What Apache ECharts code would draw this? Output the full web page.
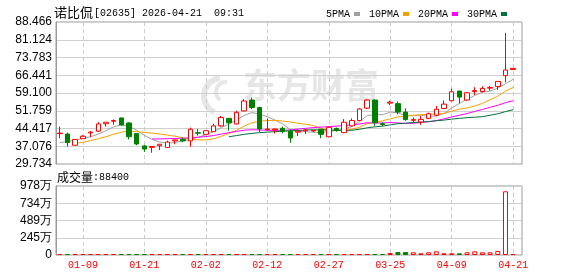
<!DOCTYPE html>
<html><head><meta charset="utf-8">
<script src="https://cdn.jsdelivr.net/npm/echarts@6/dist/echarts.min.js"></script>
<style>html,body{margin:0;padding:0;background:#fff}#c{width:578px;height:276px}</style>
</head><body><div id="c"></div>
<script>
const dates = ['01-06','01-07','01-08','01-09','01-12','01-13','01-14','01-15','01-16','01-19',
 '01-20','01-21','01-22','01-23','01-26','01-27','01-28','01-29','01-30','02-02',
 '02-03','02-04','02-05','02-06','02-09','02-10','02-11','02-12','02-13','02-16',
 '02-20','02-23','02-24','02-25','02-26','02-27','03-02','03-03','03-04','03-05',
 '03-06','03-09','03-10','03-25','03-26','03-27','03-30','03-31','04-01','04-02',
 '04-08','04-09','04-10','04-13','04-14','04-15','04-16','04-17','04-20','04-21'];
const opens = [42.3,42.1,37.5,40.2,42.6,43.3,46.4,47.4,48.8,46.7, 42.3,37.2,36.6,37.3,36.6,39.3,39.9,39.3,42.7,42.0,
 43.1,45.5,48.6,46.3,51.7,56.2,53.1,43.9,43.9,44.5, 43.4,42.9,43.5,43.4,44.1,41.0,44.4,42.7,45.5,47.7,
 52.8,56.2,46.4,54.9,54.7,51.2,47.8,47.1,48.6,49.9, 52.7,55.9,59.9,56.2,59.7,59.7,61.1,61.8,66.3,68.8];
const closes = [42.5,38.6,39.9,41.2,42.9,46.3,47.0,47.7,45.9,41.0, 38.0,35.9,37.0,37.9,38.8,39.7,39.3,44.1,42.5,43.5,
 45.5,49.0,46.8,51.1,55.8,53.1,44.2,44.2,44.2,43.2, 40.5,43.3,43.8,43.6,42.0,44.9,43.6,47.0,47.7,52.5,
 56.2,46.8,46.1,55.3,51.2,48.1,48.1,48.2,50.5,52.4, 54.5,59.6,57.4,59.2,60.1,61.0,61.4,63.9,68.6,69.3];
const lows = [40.4,36.9,37.4,40.1,40.8,43.1,45.2,46.0,45.6,39.9, 37.5,34.8,34.4,35.5,36.4,37.9,38.8,36.9,41.5,42.0,
 43.0,45.2,43.5,46.1,51.5,52.5,43.0,43.3,42.4,42.4, 38.5,41.3,42.1,42.9,40.4,40.8,43.1,42.5,45.2,47.5,
 52.6,45.5,45.3,54.1,50.3,47.6,46.8,45.9,48.3,49.5, 52.5,55.6,54.8,55.9,58.3,59.4,60.1,60.4,63.5,68.8];
const highs = [45.2,42.7,40.0,41.7,43.4,47.0,47.0,48.2,48.9,47.0, 42.4,37.6,37.1,37.9,39.4,39.7,40.6,44.8,44.2,43.7,
 46.4,49.6,48.8,51.7,56.6,57.2,53.4,48.6,44.4,45.2, 44.0,44.1,44.1,43.8,44.2,45.2,44.8,48.3,48.6,52.8,
 56.5,56.4,47.0,55.9,55.6,52.8,49.0,49.6,51.0,53.7, 56.0,60.9,60.0,59.5,61.5,61.9,62.0,64.0,84.0,69.3];
const volumes = [95000,82000,76000,88000,71000,93000,68000,74000,90000,86000,
 79000,72000,84000,66000,91000,70000,64000,98000,75000,69000,
 87000,101000,83000,96000,110000,92000,105000,78000,62000,67000,
 94000,73000,61000,58000,81000,89000,65000,99000,85000,102000,
 108000,118000,97000,280000,420000,420000,380000,240000,380000,520000,
 240000,240000,240000,380000,520000,380000,380000,570000,9030000,88400];
const ma5 = [38.6,39.0,39.6,40.3,41.0,42.1,43.5,45.1,45.9,45.4, 43.7,41.6,39.9,38.8,38.3,38.7,39.2,39.9,40.8,41.8,
 43.1,44.8,46.2,48.0,49.8,51.0,50.4,49.3,47.9,46.3, 44.0,43.4,43.1,42.9,42.7,43.2,43.6,44.2,45.2,47.3,
 49.7,50.2,50.1,51.2,50.9,49.7,49.7,49.9,49.4,49.6, 50.7,52.9,54.8,56.5,58.1,59.4,59.9,61.1,62.9,64.8];
const ma10 = [null,null,38.3,38.7,39.4,40.2,41.0,42.0,42.9,43.3, 43.1,42.8,42.5,42.1,41.7,41.2,40.6,40.0,39.7,39.7,
 40.1,41.2,42.3,43.7,45.4,46.8,47.4,47.7,47.8,47.5, 47.1,46.6,46.2,45.6,44.5,43.7,43.5,43.7,44.1,44.9,
 46.4,47.0,47.6,48.4,49.2,49.6,49.9,50.1,50.3,50.4, 50.6,51.6,52.4,52.9,53.7,54.8,56.3,57.8,59.9,61.4];
const ma20 = [null,null,null,null,null,null,null,null,null,null, null,null,40.1,40.1,40.2,40.3,40.4,40.6,40.8,41.1,
 41.5,42.1,42.7,43.2,43.7,43.9,43.8,43.7,43.6,43.7, 43.8,44.2,44.5,44.8,45.0,45.2,45.4,45.6,45.9,46.3,
 46.8,46.7,46.7,46.9,46.7,46.5,46.6,46.9,47.2,47.7, 48.4,49.2,49.9,50.6,51.5,52.3,53.2,54.0,55.1,55.9];
const ma30 = [null,null,null,null,null,null,null,null,null,null, null,null,null,null,null,null,null,null,null,null,
 null,null,41.0,41.5,42.0,42.4,42.7,42.9,43.1,43.3, 43.4,43.6,43.8,43.9,43.8,43.8,43.7,43.6,43.7,44.1,
 44.7,45.1,45.4,45.9,46.4,46.6,46.9,47.1,47.3,47.6, 47.9,48.3,48.6,48.9,49.1,49.3,49.9,50.5,51.4,52.2];
const priceTicks = ['29.734','37.076','44.417','51.759','59.100','66.441','73.783','81.124','88.466'];
const volTicks = ['0','245万','489万','734万','978万'];
const labelIdx = [3,11,19,27,35,43,51,59];

const RED = '#ff0000', GREEN = '#008000';
const priceMin = 29.734, priceMax = 88.466, priceStep = (priceMax - priceMin) / 8;
const volMax = 9780000, volStep = volMax / 4;
const showIdx = (i) => labelIdx.indexOf(i) >= 0;
const gridLine = {lineStyle: {color: '#cfcfcf', width: 1}};
const vDash = {show: true, interval: showIdx, alignWithLabel: true, lineStyle: {color: '#cccccc', type: [4, 3], width: 1}};

const candleData = dates.map((d, i) => [opens[i], closes[i], lows[i], highs[i]]);
const volData = volumes.map((v, i) => ({
  value: v,
  itemStyle: closes[i] >= opens[i]
    ? {color: '#ffffff', borderColor: RED, borderWidth: 1}
    : {color: GREEN, borderColor: GREEN, borderWidth: 1}
}));

const chart = echarts.init(document.getElementById('c'));
const maLine = (name, data, color) => ({
  name, type: 'line', data, xAxisIndex: 1, yAxisIndex: 1, showSymbol: false, symbol: 'none',
  lineStyle: {width: 1, color}, itemStyle: {color}, connectNulls: false, z: 3
});
chart.setOption({
  animation: false,
  title: {
    text: '{a|诺比侃}{b|[02635] 2026-04-21  09:31}', left: 49, top: 1,
    textStyle: {fontWeight: 'normal', rich: {
      a: {fontSize: 13, fontWeight: 'normal', fontFamily: 'Noto Sans CJK SC', color: '#000'},
      b: {fontSize: 10, fontWeight: 'normal', fontFamily: 'Liberation Mono', color: '#000', padding: [1, 0, 0, 1]}
    }}
  },
  legend: {
    data: ['5PMA', '10PMA', '20PMA', '30PMA'], top: 4, right: 66, align: 'right',
    icon: 'rect', itemWidth: 6, itemHeight: 4, itemGap: 9,
    textStyle: {fontFamily: 'Liberation Mono', fontSize: 10, color: '#000', padding: [0, -1, 0, 0]}
  },
  graphic: [
    {type: 'text', left: 243, top: 68, z: 0, silent: true,
     style: {text: '东方财富', fontSize: 34, fontWeight: 'bold', fontFamily: 'Noto Sans CJK SC', fill: '#e6e6e6'}},
    {type: 'arc', z: 0, silent: true, shape: {cx: 222, cy: 96, r: 18, startAngle: 2.0, endAngle: 4.6},
     style: {stroke: '#e6e6e6', lineWidth: 6, fill: null}},
    {type: 'arc', z: 0, silent: true, shape: {cx: 226, cy: 92, r: 10, startAngle: 2.2, endAngle: 4.8},
     style: {stroke: '#e6e6e6', lineWidth: 4, fill: null}},
    {type: 'text', left: 57, top: 171, z: 10, silent: true,
     style: {text: '{a|成交量}{b|:88400}', rich: {
       a: {fontSize: 12, fontFamily: 'Noto Sans CJK SC', fill: '#000'},
       b: {fontSize: 10, fontFamily: 'Liberation Mono', fill: '#000'}
     }}}
  ],
  grid: [
    {left: 56, top: 22, width: 466, height: 142, show: true, borderColor: '#999', borderWidth: 1, backgroundColor: 'transparent'},
    {left: 56, top: 22, width: 461, height: 142},
    {left: 56, top: 186, width: 466, height: 69, show: true, borderColor: '#999', borderWidth: 1, backgroundColor: 'transparent'},
    {left: 56, top: 186, width: 461, height: 69}
  ],
  xAxis: [
    {type: 'value', gridIndex: 0, show: false, min: 0, max: 1},
    {type: 'category', gridIndex: 1, data: dates, boundaryGap: true,
     axisLine: {show: false}, axisTick: {show: false}, axisLabel: {show: false}, splitLine: vDash},
    {type: 'value', gridIndex: 2, show: false, min: 0, max: 1},
    {type: 'category', gridIndex: 3, data: dates, boundaryGap: true,
     axisLine: {show: false}, axisTick: {show: false, alignWithLabel: true, interval: showIdx},
     axisLabel: {show: true, interval: showIdx, color: RED, fontFamily: 'Liberation Mono', fontSize: 10, margin: 5},
     splitLine: vDash}
  ],
  yAxis: [
    {type: 'value', gridIndex: 0, min: priceMin, max: priceMax, interval: priceStep,
     axisLine: {show: true, lineStyle: {color: '#999'}}, axisTick: {show: false},
     axisLabel: {color: '#000', fontFamily: 'Liberation Sans', fontSize: 12, margin: 4,
       formatter: (v) => priceTicks[Math.round((v - priceMin) / priceStep)]},
     splitLine: gridLine},
    {type: 'value', gridIndex: 1, min: priceMin, max: priceMax, show: false, splitLine: {show: false}},
    {type: 'value', gridIndex: 2, min: 0, max: volMax, interval: volStep,
     axisLine: {show: true, lineStyle: {color: '#999'}}, axisTick: {show: false},
     axisLabel: {color: '#000', fontFamily: 'Liberation Sans', fontSize: 12, margin: 4,
       formatter: (v) => volTicks[Math.round(v / volStep)]},
     splitLine: gridLine},
    {type: 'value', gridIndex: 3, min: 0, max: volMax, show: false, splitLine: {show: false}}
  ],
  series: [
    {name: 'K', type: 'candlestick', xAxisIndex: 1, yAxisIndex: 1, data: candleData, barWidth: 5, z: 4,
     itemStyle: {color: '#ffffff', color0: GREEN, borderColor: RED, borderColor0: GREEN, borderWidth: 1}},
    maLine('5PMA', ma5, '#a0a0a0'),
    maLine('10PMA', ma10, '#f5a000'),
    maLine('20PMA', ma20, '#ff00ff'),
    maLine('30PMA', ma30, '#00703c'),
    {name: 'VOL', type: 'bar', xAxisIndex: 3, yAxisIndex: 3, data: volData, barWidth: 5, barMinHeight: 1}
  ]
});
</script>
</body></html>
